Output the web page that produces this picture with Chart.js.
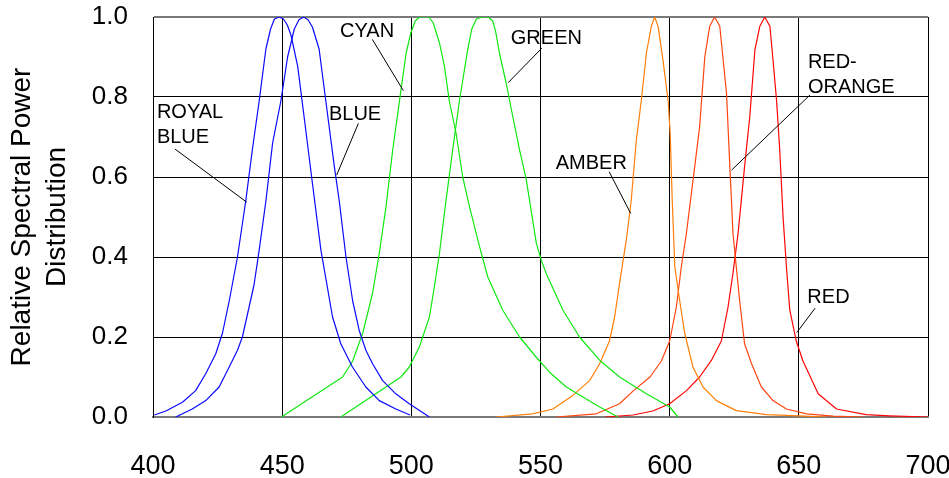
<!DOCTYPE html>
<html>
<head>
<meta charset="utf-8">
<script src="https://cdn.jsdelivr.net/npm/chart.js@4.4.1/dist/chart.umd.min.js"></script>
<style>
html,body{margin:0;padding:0;background:#fff;}
#wrap{width:949px;height:478px;position:relative;}
</style>
</head>
<body>
<div id="wrap"><canvas id="c" width="949" height="478"></canvas></div>
<script>
// ---- data (wavelength nm, relative power) ----
const royalBlueX = [400.5, 405, 411.4, 416.5, 420.4, 424.3, 426.9, 429.5, 432.7, 435.9, 438.5, 441.1, 443.7, 445.5, 447, 448.8, 450.5, 452, 453.4, 456, 458.5, 461.7, 465, 469.5, 472.7, 477.2, 482.4, 487.6, 494, 499.5];
const royalBlueY = [0.005, 0.015, 0.037, 0.066, 0.108, 0.158, 0.21, 0.29, 0.40, 0.54, 0.67, 0.79, 0.92, 0.97, 0.995, 1.0, 0.995, 0.98, 0.955, 0.877, 0.75, 0.585, 0.417, 0.25, 0.183, 0.125, 0.075, 0.041, 0.02, 0.005];

const blueX = [408.8, 415.2, 420.4, 425.6, 429.5, 432.7, 434.6, 437.2, 439.1, 441.1, 443.7, 446.3, 449.5, 452.1, 454.7, 456.5, 458.3, 460, 461.7, 464.3, 466.9, 470.2, 472.1, 474.7, 477.3, 479.8, 482.4, 485, 488.9, 494, 499.2, 507];
const blueY = [0, 0.02, 0.041, 0.075, 0.125, 0.167, 0.20, 0.275, 0.33, 0.417, 0.54, 0.685, 0.79, 0.90, 0.97, 0.993, 1.0, 0.993, 0.975, 0.92, 0.79, 0.626, 0.54, 0.40, 0.29, 0.217, 0.167, 0.133, 0.091, 0.058, 0.033, 0.0];

const cyanX = [449.7, 473.4, 477.3, 481.2, 485, 487.6, 490.2, 492.8, 496, 498, 499.8, 501.5, 503.2, 505, 506.8, 508.5, 510.9, 512.8, 514.7, 517.3, 519.9, 522.5, 526.4, 529.6, 535.4, 541.9, 548.3, 553.5, 560, 566.4, 572.9, 580];
const cyanY = [0, 0.10, 0.14, 0.21, 0.31, 0.41, 0.526, 0.668, 0.818, 0.91, 0.96, 0.99, 1.0, 1.0, 1.0, 0.985, 0.935, 0.877, 0.79, 0.71, 0.60, 0.526, 0.426, 0.35, 0.267, 0.20, 0.15, 0.112, 0.075, 0.05, 0.025, 0];

const greenX = [472.7, 496, 499.2, 503.1, 507, 508.9, 510.9, 513.4, 516, 518.6, 521.8, 523.4, 525.2, 527.5, 529.8, 531.5, 532.6, 534.1, 536.7, 539.3, 541.9, 544.5, 548.4, 550.3, 552.2, 558.7, 565.1, 572.9, 580.6, 591, 600, 603.2];
const greenY = [0, 0.10, 0.125, 0.175, 0.25, 0.325, 0.41, 0.54, 0.668, 0.79, 0.918, 0.97, 0.995, 1.0, 1.0, 0.99, 0.965, 0.91, 0.835, 0.75, 0.668, 0.593, 0.434, 0.392, 0.359, 0.267, 0.20, 0.142, 0.10, 0.058, 0.025, 0];

const amberX = [532.8, 547, 554.8, 562.5, 569, 572.9, 576.7, 578.7, 580.6, 583.2, 585.1, 587.1, 589, 591, 592.9, 594.2, 595.5, 597.4, 599.4, 600.2, 601, 602, 603.9, 605.8, 609, 612.9, 618.1, 625.8, 637.5, 650, 660.7];
const amberY = [0, 0.008, 0.02, 0.054, 0.091, 0.133, 0.19, 0.25, 0.334, 0.442, 0.54, 0.693, 0.79, 0.91, 0.977, 1.0, 0.977, 0.893, 0.79, 0.71, 0.54, 0.375, 0.29, 0.21, 0.125, 0.075, 0.041, 0.016, 0.006, 0.003, 0];

const redOrangeX = [556, 571.6, 580.6, 586, 592.4, 596.8, 600, 602.6, 604.5, 606.5, 609.7, 611.6, 613.6, 615.5, 617.4, 619.4, 620.7, 622, 623.3, 624.5, 625.8, 627.1, 629, 631.7, 635.5, 640, 645.2, 653, 663.2, 675];
const redOrangeY = [0, 0.008, 0.033, 0.066, 0.10, 0.14, 0.19, 0.275, 0.375, 0.46, 0.626, 0.726, 0.90, 0.977, 1.0, 0.977, 0.893, 0.81, 0.626, 0.46, 0.375, 0.29, 0.183, 0.133, 0.075, 0.041, 0.02, 0.008, 0.002, 0];

const redX = [575, 585.8, 593.5, 600, 606.5, 611.6, 616.2, 620, 622.6, 624.5, 626.5, 629, 631, 633, 634.9, 636.8, 638.8, 640, 641.4, 642.6, 643.9, 645.2, 646.5, 649, 651.6, 657.5, 664.6, 676, 685, 700];
const redY = [0, 0.005, 0.015, 0.033, 0.066, 0.10, 0.142, 0.19, 0.275, 0.359, 0.46, 0.626, 0.75, 0.918, 0.977, 1.0, 0.977, 0.893, 0.79, 0.668, 0.50, 0.375, 0.267, 0.19, 0.14, 0.058, 0.02, 0.006, 0.003, 0];

const seriesNames = ['ROYAL BLUE', 'BLUE', 'CYAN', 'GREEN', 'AMBER', 'RED-ORANGE', 'RED'];
const xTicks = [400, 450, 500, 550, 600, 650, 700];
const yTicks = [0, 0.2, 0.4, 0.6, 0.8, 1.0];
const yTitle = ['Relative Spectral Power', 'Distribution'];

// curve labels: text lines, anchor (nm, value), leader from (nm,value) to (nm,value)
const labelText = [['ROYAL', 'BLUE'], ['BLUE'], ['CYAN'], ['GREEN'], ['AMBER'], ['RED-', 'ORANGE'], ['RED']];
const labelAt = [[401.5, 0.7625], [468.1, 0.7575], [472.4, 0.965], [538.5, 0.9475], [555.9, 0.635], [653.5, 0.8875], [653.3, 0.30]];
const leaderFrom = [[408.5, 0.67], [479.5, 0.734], [484.9, 0.944], [550.5, 0.922], [576.6, 0.613], [654.3, 0.805], [656.3, 0.272]];
const leaderTo = [[436.3, 0.537], [471.1, 0.605], [496.9, 0.816], [537.5, 0.836], [584.9, 0.509], [624, 0.6175], [649.2, 0.211]];

const FONT = '"Liberation Sans", Arial, Helvetica, sans-serif';
const colors = ['#0a0aff', '#0a0aff', '#10e810', '#10e810', '#ff7f0a', '#ff4510', '#ff0505'];

function pts(xs, ys) { return xs.map((x, i) => ({x: x, y: ys[i]})); }
const allX = [royalBlueX, blueX, cyanX, greenX, amberX, redOrangeX, redX];
const allY = [royalBlueY, blueY, cyanY, greenY, amberY, redOrangeY, redY];

const datasets = seriesNames.map((n, i) => ({
  label: n,
  data: pts(allX[i], allY[i]),
  showLine: true,
  borderColor: colors[i],
  backgroundColor: colors[i],
  borderWidth: 1.2,
  pointRadius: 0,
  tension: 0,
  borderJoinStyle: 'round',
  fill: false
}));

const labelPlugin = {
  id: 'curveLabels',
  afterDatasetsDraw(chart) {
    const ctx = chart.ctx;
    const xs = chart.scales.x, ys = chart.scales.y;
    ctx.save();
    ctx.strokeStyle = '#000';
    ctx.lineWidth = 1;
    for (let i = 0; i < labelText.length; i++) {
      ctx.beginPath();
      ctx.moveTo(xs.getPixelForValue(leaderFrom[i][0]), ys.getPixelForValue(leaderFrom[i][1]));
      ctx.lineTo(xs.getPixelForValue(leaderTo[i][0]), ys.getPixelForValue(leaderTo[i][1]));
      ctx.stroke();
    }
    ctx.fillStyle = '#000';
    ctx.font = '20px ' + FONT;
    ctx.textAlign = 'left';
    ctx.textBaseline = 'middle';
    for (let i = 0; i < labelText.length; i++) {
      const x = xs.getPixelForValue(labelAt[i][0]);
      const y = ys.getPixelForValue(labelAt[i][1]);
      labelText[i].forEach((t, k) => ctx.fillText(t, x, y + k * 25));
    }
    ctx.restore();
  }
};

new Chart(document.getElementById('c'), {
  type: 'scatter',
  data: { datasets },
  options: {
    responsive: false,
    animation: false,
    devicePixelRatio: 1,
    layout: { padding: { left: 0, top: 17, right: 21, bottom: 0 } },
    plugins: { legend: { display: false }, tooltip: { enabled: false } },
    scales: {
      x: {
        type: 'linear', min: 400, max: 700,
        afterBuildTicks(s) { s.ticks = xTicks.map(v => ({value: v})); },
        afterFit(s) { s.height = 61; s.paddingLeft = 0; s.paddingRight = 0; },
        ticks: { font: { family: FONT, size: 27 }, color: '#000', padding: 33, maxRotation: 0, autoSkip: false },
        grid: { color: '#000', lineWidth: 1, drawTicks: false },
        border: { color: '#7a7a7a', width: 2 }
      },
      y: {
        type: 'linear', min: 0, max: 1,
        afterBuildTicks(s) { s.ticks = yTicks.map(v => ({value: v})); },
        afterFit(s) { s.width = 153; s.paddingTop = 0; s.paddingBottom = 0; },
        ticks: { font: { family: FONT, size: 26 }, color: '#000', padding: 25, callback: v => Number(v).toFixed(1) },
        grid: {
          color: c => (c.tick && c.tick.value === 1) ? '#7a7a7a' : '#000',
          lineWidth: c => (c.tick && c.tick.value === 1) ? 2 : 1,
          drawTicks: false
        },
        border: { color: '#000', width: 1 },
        title: { display: true, text: yTitle, color: '#000', font: { family: FONT, size: 28, lineHeight: 1.28 }, padding: { top: 4, bottom: 0 } }
      }
    }
  },
  plugins: [labelPlugin]
});
</script>
</body>
</html>
